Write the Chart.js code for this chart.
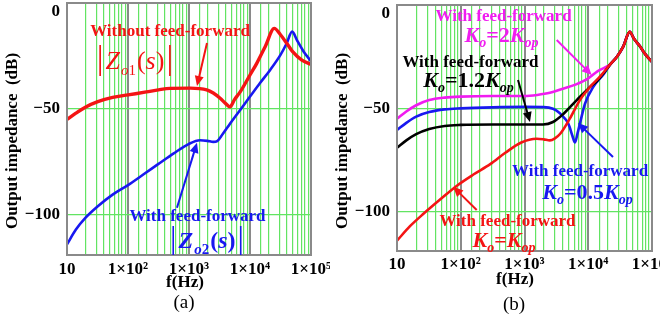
<!DOCTYPE html>
<html><head><meta charset="utf-8">
<script src="https://cdn.jsdelivr.net/npm/chart.js@4.4.1/dist/chart.umd.min.js"></script>
<style>
html,body{margin:0;padding:0;background:#fff;overflow:hidden}
#wrap{position:relative;width:660px;height:328px;background:#fff}
canvas{position:absolute;top:0}
#ca{left:0}#cb{left:330px}
</style></head><body>
<div id="wrap"><canvas id="ca" width="330" height="328"></canvas><canvas id="cb" width="330" height="328"></canvas></div>
<script>
// ---------------- data ----------------
const xDecadeLabels = {1:'10', 2:'1×10²', 3:'1×10³', 4:'1×10⁴', 5:'1×10⁵'};
const yTickStep = 50;

// (a) without feed-forward |Zo1(s)|
const freqA_red = [10,14,20,32,56,100,200,316,490,1050,1950,2500,3240,4000,4700,5600,6900,10000,12900,17800,25000,31600,40000,50000,70800,100000];
const dbA_red   = [-55,-52,-49.2,-46.6,-44.6,-43.4,-42,-41,-40.3,-40.2,-41,-42.5,-45,-47.5,-49,-45.5,-42,-34,-28.5,-20.5,-12,-15,-19,-23,-27,-29];
// (a) with feed-forward |Zo2(s)|
const freqA_blue = [10,14,20,32,56,100,178,316,562,1000,1510,2000,2500,2900,3550,4700,6900,10000,14500,21400,31600,40000,49000,60000,76000,100000];
const dbA_blue   = [-114,-107,-101.5,-96,-90.5,-86,-81,-76,-71,-66.5,-64.8,-65.1,-65.6,-65.2,-62,-57,-50.5,-44.2,-37.9,-31.6,-24.5,-19,-13.5,-18,-23,-27.5];

// (b) common high-frequency part
const freqB_tail = [22400,28200,35500,44700,52500,64600,79400,100000];
const dbB_tail   = [-28.5,-25,-20,-13,-16.5,-20,-24,-27.5];
// (b) Ko = 2Kop
const freqB_mag = [10,14,20,32,56,100,316,1000,1580,2500,4000,6300,10000,14100];
const dbB_mag   = [-55,-51.5,-48.5,-46,-44.8,-44.3,-44,-44,-43.5,-42.5,-40.5,-38.5,-35.5,-32];
// (b) Ko = 0.5Kop
const freqB_blue = [10,14,20,32,56,100,316,1000,2000,2800,3550,4100,4700,5100,5600,6200,6800,7400,8900,12000,17400];
const dbB_blue   = [-60.5,-57,-54,-51.8,-50.5,-50,-49.5,-49.3,-49.4,-50.2,-52.2,-54.2,-56.5,-59,-63,-66.5,-62,-57.4,-47.7,-39.6,-33.5];
// (b) Ko = 1.2Kop
const freqB_black = [10,14,20,32,56,100,316,1000,1950,2800,4100,6600,10700,13500,17400];
const dbB_black   = [-69,-65.5,-62.5,-60,-58.5,-58,-57.8,-57.8,-57.8,-56.6,-52.6,-46,-39.6,-37,-33];
// (b) Ko = Kop
const freqB_red = [10,16,26,50,87,158,290,500,890,1550,2000,2500,3000,3630,5130,7400,10700,15100];
const dbB_red   = [-114,-107,-101,-93.5,-87.4,-82,-77,-71.5,-66.5,-64.7,-65,-65.5,-64.5,-62.3,-55,-46,-39.6,-34.8];

// ---------------- style ----------------
const SERIF = '"Liberation Serif","Times New Roman",serif';
const RED = '#f41414', BLUE = '#1818f0', MAG = '#f01cf0', BLACK = '#000000';
const GRAY = '#8a8a8a', GREEN = '#62e462';
const fnt = (style, size) => `${style} ${size}px ${SERIF}`;

function isDecade(v){ const l = Math.log10(v); return Math.abs(l - Math.round(l)) < 1e-6; }

function drawRuns(ctx, runs, cx, baseY, color){
  let w = 0;
  runs.forEach(r => { ctx.font = r.font; r.w = ctx.measureText(r.t).width + (r.gap || 0); w += r.w; });
  let x = cx - w / 2;
  ctx.fillStyle = color; ctx.textAlign = 'left'; ctx.textBaseline = 'alphabetic';
  runs.forEach(r => { ctx.font = r.font; ctx.fillText(r.t, x, baseY + (r.dy || 0)); x += r.w; });
}
function kRuns(coef){
  return [
    {t:'K', font:fnt('italic bold',22)},
    {t:'o', font:fnt('italic bold',14), dy:5},
    {t:'=' + coef, font:fnt('bold',22)},
    {t:'K', font:fnt('italic bold',22)},
    {t:'op', font:fnt('italic bold',14), dy:5}
  ];
}
function zRuns(idx, weight, size){
  const it = weight ? 'italic bold' : 'italic';
  const up = weight ? 'bold' : 'normal';
  return [
    {t:'|', font:fnt('normal', size + 8), gap:2},
    {t:'Z', font:fnt(it, size), gap:1},
    {t:'o', font:fnt(it, 15), dy:6},
    {t:idx, font:fnt(up, 15), dy:6, gap:1},
    {t:'(', font:fnt(up, size)},
    {t:'s', font:fnt(it, size)},
    {t:')', font:fnt(up, size), gap:2},
    {t:'|', font:fnt('normal', size + 8)}
  ];
}
function arrow(ctx, x1, y1, x2, y2, color){
  const a = Math.atan2(y2 - y1, x2 - x1), L = 10, H = 4.5;
  ctx.strokeStyle = color; ctx.fillStyle = color; ctx.lineWidth = 2;
  ctx.beginPath(); ctx.moveTo(x1, y1); ctx.lineTo(x2 - Math.cos(a) * L * 0.8, y2 - Math.sin(a) * L * 0.8); ctx.stroke();
  ctx.beginPath();
  ctx.moveTo(x2, y2);
  ctx.lineTo(x2 - L * Math.cos(a) + H * Math.sin(a), y2 - L * Math.sin(a) - H * Math.cos(a));
  ctx.lineTo(x2 - L * Math.cos(a) - H * Math.sin(a), y2 - L * Math.sin(a) + H * Math.cos(a));
  ctx.closePath(); ctx.fill();
}

function decorPlugin(spec){
  return {
    id: 'decor',
    afterDatasetsDraw(chart){
      const ctx = chart.ctx, ca = chart.chartArea, sx = chart.scales.x, sy = chart.scales.y;
      const px = v => sx.getPixelForValue(v), py = v => sy.getPixelForValue(v);
      ctx.save();
      // frame
      ctx.strokeStyle = GRAY; ctx.lineWidth = 2;
      ctx.strokeRect(ca.left, ca.top, ca.right - ca.left, ca.bottom - ca.top);
      // arrows
      spec.arrows.forEach(a => arrow(ctx, px(a.from[0]), py(a.from[1]), px(a.to[0]), py(a.to[1]), a.color));
      // plain labels
      spec.texts.forEach(t => {
        ctx.font = fnt('bold', 17); ctx.fillStyle = t.color; ctx.textAlign = 'center'; ctx.textBaseline = 'middle';
        ctx.fillText(t.text, px(t.at[0]), py(t.at[1]));
      });
      // math labels
      spec.rich.forEach(r => drawRuns(ctx, r.runs, px(r.at[0]), py(r.at[1]) + r.base, r.color));
      // axis titles and caption
      ctx.fillStyle = '#000'; ctx.textAlign = 'center'; ctx.textBaseline = 'middle';
      ctx.font = fnt('bold', 17);
      ctx.save(); ctx.translate(13, 141); ctx.rotate(-Math.PI / 2);
      ctx.fillText('Output impedance  (dB)', 0, 0); ctx.restore();
      ctx.fillText('f(Hz)', 185, spec.fy);
      ctx.font = fnt('normal', 19);
      ctx.fillText(spec.caption, 184, spec.cy);
      ctx.restore();
    }
  };
}

function build(canvas, series, area, spec){
  return new Chart(canvas, {
    type: 'line',
    data: { datasets: series.map(s => ({
      data: s.f.map((fr, i) => ({x: fr, y: s.z[i]})),
      borderColor: s.color, borderWidth: s.w, pointRadius: 0,
      cubicInterpolationMode: 'monotone', fill: false
    })) },
    options: {
      responsive: false, animation: false, devicePixelRatio: 1,
      layout: { padding: { left: 0, top: area.top, right: area.right, bottom: 0 } },
      plugins: { legend: {display: false}, tooltip: {enabled: false} },
      scales: {
        x: {
          type: 'logarithmic', min: 10, max: 100000,
          border: {display: false},
          grid: {
            drawTicks: false,
            color: c => isDecade(c.tick.value) ? GRAY : GREEN,
            lineWidth: c => isDecade(c.tick.value) ? 2 : 1.2
          },
          ticks: {
            autoSkip: false, maxRotation: 0, minRotation: 0, padding: area.xpad, color: '#000',
            font: {family: SERIF, size: 17, weight: 'bold'},
            callback: v => isDecade(v) ? xDecadeLabels[Math.round(Math.log10(v))] : ''
          },
          afterFit: s => { s.height = area.xh; s.paddingLeft = 0; s.paddingRight = 0; }
        },
        y: {
          min: -119, max: 0,
          border: {display: false},
          grid: { drawTicks: false, color: c => c.tick.value === 0 ? GRAY : GREEN, lineWidth: 1.3 },
          ticks: {
            stepSize: yTickStep, includeBounds: false, padding: 7, color: '#000',
            font: {family: SERIF, size: 17, weight: 'bold', lineHeight: 1},
            callback: v => v === 0 ? ['', '0'] : '\u2212' + Math.abs(v)
          },
          afterFit: s => { s.width = 67; s.paddingTop = 0; s.paddingBottom = 0; }
        }
      }
    },
    plugins: [decorPlugin(spec)]
  });
}

// ---------------- chart (a) ----------------
build(document.getElementById('ca'), [
  {f: freqA_red, z: dbA_red, color: RED, w: 3.4},
  {f: freqA_blue, z: dbA_blue, color: BLUE, w: 2.6}
], {top: 3, right: 19, xh: 73, xpad: 4}, {
  fy: 283, cy: 303, caption: '(a)',
  texts: [
    {text: 'Without feed-forward', at: [489, -13.7], color: RED},
    {text: 'With feed-forward', at: [1377, -100.9], color: BLUE}
  ],
  rich: [
    {runs: zRuns('1', false, 26), at: [130, -26.9], base: 9, color: RED},
    {runs: zRuns('2', true, 24), at: [1972, -111.8], base: 8, color: BLUE}
  ],
  arrows: [
    {from: [1972, -18.9], to: [1352, -39.2], color: RED},
    {from: [635, -96.7], to: [1352, -66], color: BLUE}
  ]
});

// ---------------- chart (b) ----------------
build(document.getElementById('cb'), [
  {f: freqB_red.concat(freqB_tail), z: dbB_red.concat(dbB_tail), color: RED, w: 2.6},
  {f: freqB_black.concat(freqB_tail), z: dbB_black.concat(dbB_tail), color: BLACK, w: 2.6},
  {f: freqB_blue.concat(freqB_tail), z: dbB_blue.concat(dbB_tail), color: BLUE, w: 2.6},
  {f: freqB_mag.concat(freqB_tail), z: dbB_mag.concat(dbB_tail), color: MAG, w: 2.6}
], {top: 5, right: 8, xh: 77, xpad: 3}, {
  fy: 280, cy: 305, caption: '(b)',
  texts: [
    {text: 'With feed-forward', at: [469, -5.8], color: MAG},
    {text: 'With feed-forward', at: [142, -28.1], color: BLACK},
    {text: 'With feed-forward', at: [7430, -80.8], color: BLUE},
    {text: 'With feed-forward', at: [541, -105], color: RED}
  ],
  rich: [
    {runs: kRuns('2'), at: [436, -14.5], base: 7, color: MAG},
    {runs: kRuns('1.2'), at: [132, -36.3], base: 7, color: BLACK},
    {runs: kRuns('0.5'), at: [9727, -90.5], base: 7, color: BLUE},
    {runs: kRuns(''), at: [476, -113.7], base: 7, color: RED}
  ],
  arrows: [
    {from: [3199, -16.9], to: [11324, -33.9], color: MAG},
    {from: [791, -36.3], to: [1219, -56.6], color: BLACK},
    {from: [24430, -73.5], to: [6902, -57.1], color: BLUE},
    {from: [178, -99.2], to: [76, -87.9], color: RED}
  ]
});
</script>
</body></html>
